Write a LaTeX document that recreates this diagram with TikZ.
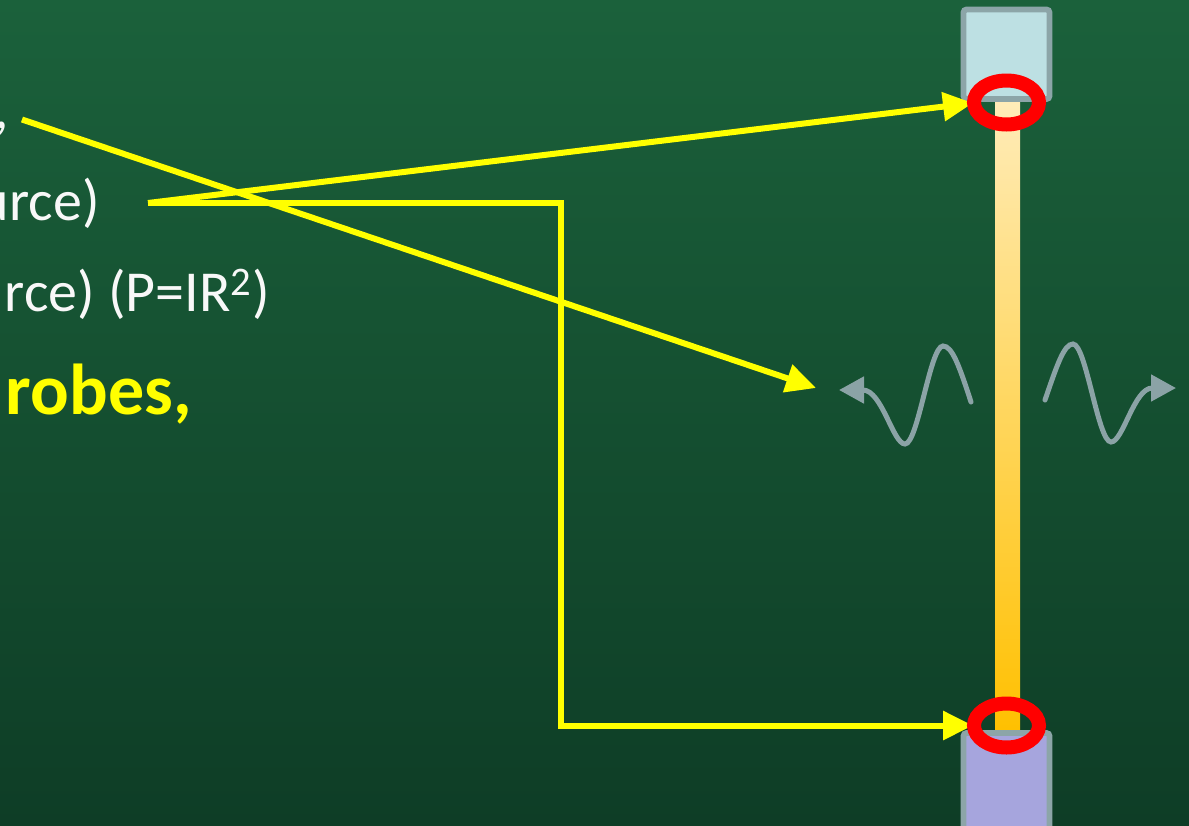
\documentclass[tikz,border=0pt]{standalone}
\usepackage{fontspec}
\setmainfont{Carlito}
\usetikzlibrary{arrows.meta}
\definecolor{bgtop}{RGB}{27,97,59}
\definecolor{bgbot}{RGB}{14,61,38}
\definecolor{arrowyellow}{RGB}{255,255,0}
\definecolor{ringred}{RGB}{255,0,0}
\definecolor{blockedge}{RGB}{140,165,168}
\definecolor{topfill}{RGB}{189,224,227}
\definecolor{botfill}{RGB}{166,165,221}
\definecolor{rodtop}{RGB}{255,236,185}
\definecolor{rodbot}{RGB}{255,192,0}
\definecolor{wavegray}{RGB}{139,163,166}
\definecolor{textwhite}{RGB}{248,248,248}
\begin{document}
\begin{tikzpicture}[x=0.02cm,y=-0.02cm,
  yarrow/.style={draw=arrowyellow, line width=0.12cm, line join=miter,
    -{Triangle[length=0.6cm,width=0.56cm]}},
  ring/.style={draw=ringred, line width=0.28cm},
  blockbox/.style={draw=blockedge, line width=0.115cm, rounded corners=0.06cm},
  wave/.style={draw=wavegray, line width=0.1cm, line cap=round,
    -{Triangle[length=0.5cm,width=0.52cm]}},
  bodytext/.style={inner sep=0pt, anchor=base east, text=textwhite,
    font=\fontsize{33}{40}\selectfont},
  boldtext/.style={inner sep=0pt, anchor=base east, text=arrowyellow,
    font=\fontsize{41}{48}\selectfont\bfseries}]
\useasboundingbox (0,0) rectangle (1189,825);
\clip (0,0) rectangle (1189,825);
\shade[top color=bgtop, bottom color=bgbot] (0,0) rectangle (1189,825);

% text fragments
\node[bodytext] (l1) at (9,128) {,};
\node[bodytext] (l2) at (100,220) {urce)};
\node[bodytext] (l3) at (270,311) {rce) (P=IR\textsuperscript{2})};
\node[boldtext] (l4) at (192,414) {robes,};

% rod
\shade[top color=rodtop, bottom color=rodbot] (995,100) rectangle (1020,732);

% blocks
\draw[blockbox, fill=topfill] (963.5,9.5) rectangle (1049.5,99);
\draw[blockbox, fill=botfill] (963.5,733) rectangle (1049.5,840);

% coordinates
\coordinate (src) at (148,203);
\coordinate (commaend) at (22,119.5);
\coordinate (wavetip) at (816,388);
\coordinate (toptip) at (973,103);
\coordinate (cornerA) at (560.5,203);
\coordinate (cornerB) at (560.5,725.5);
\coordinate (bottip) at (973,725.5);
\coordinate (topring) at (1006.5,102.5);
\coordinate (botring) at (1006.5,725.5);

% yellow connectors
\draw[yarrow] (commaend) -- (wavetip);
\draw[yarrow] (src) -- (toptip);
\draw[yarrow] (src) -- (cornerA) -- (cornerB) -- (bottip);

% red rings
\draw[ring] (topring) ellipse [x radius=0.65cm, y radius=0.44cm];
\draw[ring] (botring) ellipse [x radius=0.65cm, y radius=0.44cm];

% waves
\coordinate (lw0) at (971,402);
\coordinate (lwtip) at (839,390);
\coordinate (rw0) at (1045,400);
\coordinate (rwtip) at (1176,388);
\draw[wave] (lw0) .. controls (959,365) and (952,346) .. (943,346)
  .. controls (930,346) and (918,444) .. (905,444)
  .. controls (893,444) and (882,390) .. (lwtip);
\draw[wave] (rw0) .. controls (1057,365) and (1064,344) .. (1073,344)
  .. controls (1086,344) and (1098,442) .. (1111,442)
  .. controls (1123,442) and (1134,388) .. (rwtip);
\end{tikzpicture}
\end{document}
